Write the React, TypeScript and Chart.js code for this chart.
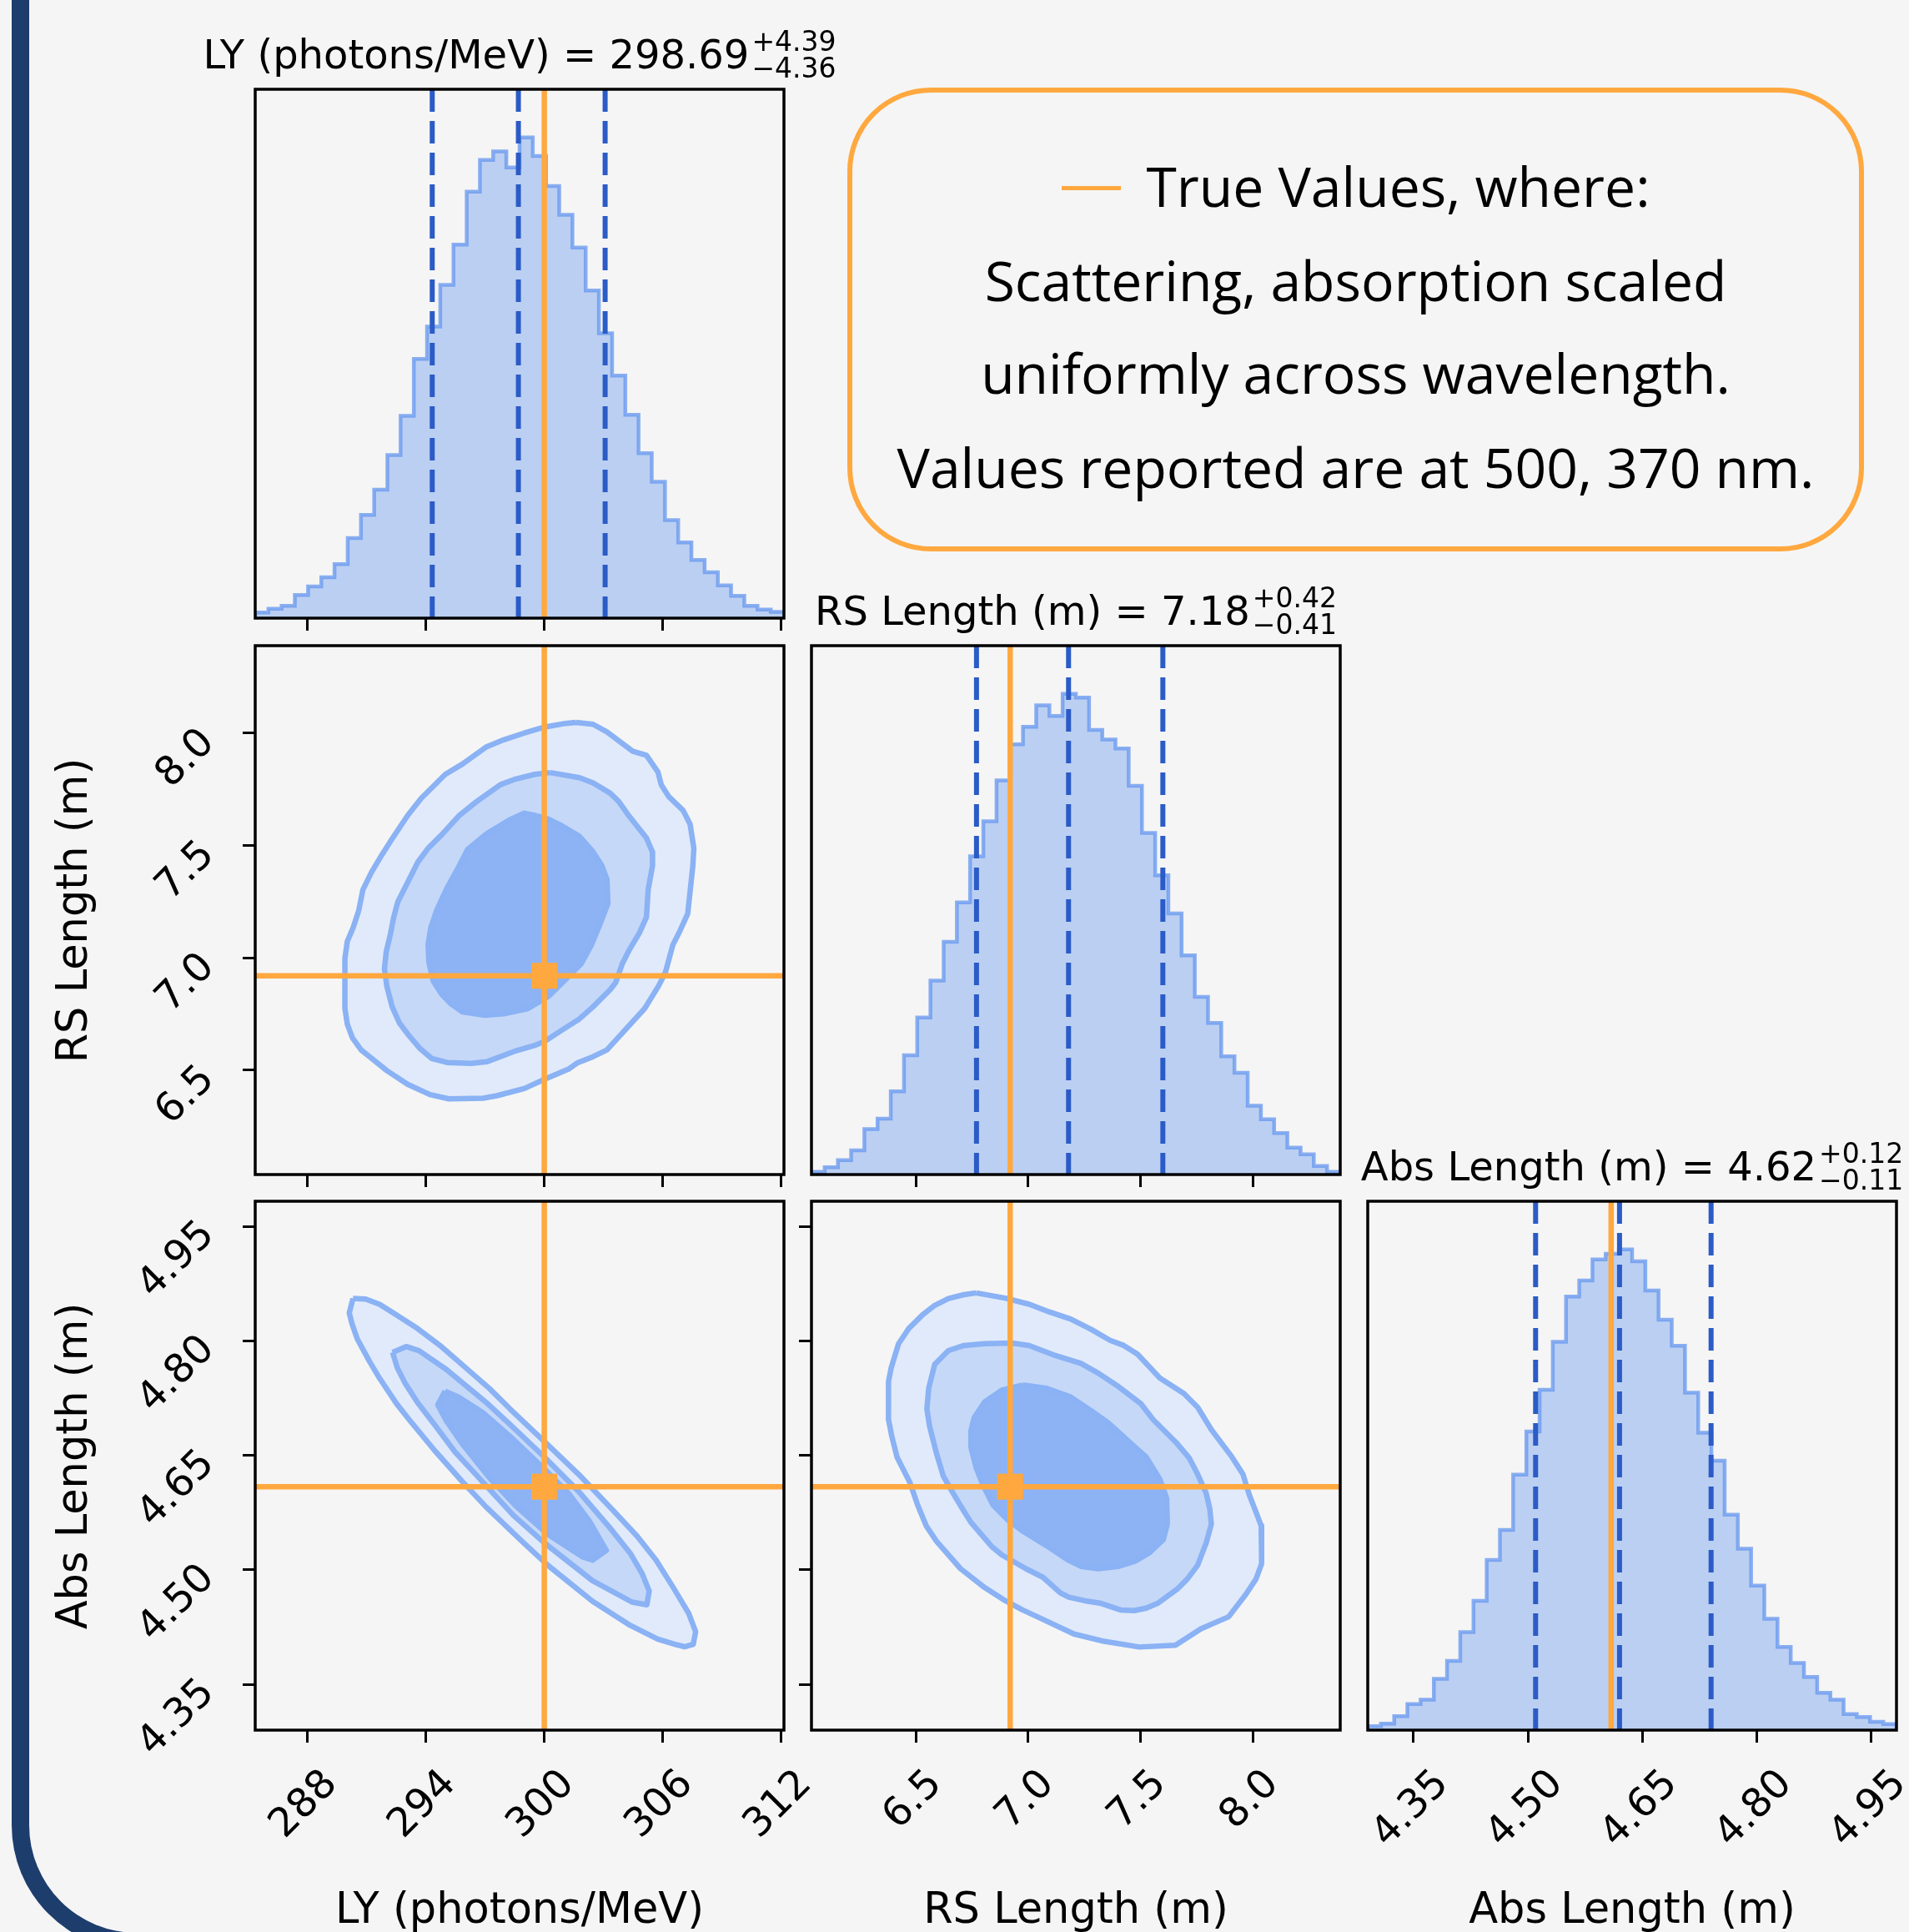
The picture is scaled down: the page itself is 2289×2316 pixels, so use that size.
import React, { useEffect, useRef } from "react";
import { Chart, registerables } from "chart.js";

Chart.register(...registerables);

// ---------------- data ----------------
const N_BINS = 40;
const LY_RANGE: [number, number] = [285.37, 312.13];
const RS_RANGE: [number, number] = [6.035, 8.39];
const ABS_RANGE: [number, number] = [4.29, 4.983];

const LY_TICKS = [288, 294, 300, 306, 312];
const RS_TICKS = [6.5, 7.0, 7.5, 8.0];
const ABS_TICKS = [4.35, 4.5, 4.65, 4.8, 4.95];

const TRUE_LY = 300;
const TRUE_RS = 6.92;
const TRUE_ABS = 4.609;

const LY_QUANTILES = [294.33, 298.69, 303.08];
const RS_QUANTILES = [6.77, 7.18, 7.6];
const ABS_QUANTILES = [4.51, 4.62, 4.74];

const LY_COUNTS = [15, 25, 33, 62, 85, 110, 145, 215, 277, 345, 438, 543, 696, 783, 895, 1003, 1145, 1230, 1253, 1210, 1291, 1241, 1160, 1083, 995, 880, 765, 651, 546, 443, 366, 263, 203, 156, 123, 88, 60, 33, 23, 17];
const RS_COUNTS = [7, 19, 37, 62, 117, 144, 214, 307, 404, 499, 599, 700, 819, 909, 1014, 1107, 1152, 1207, 1180, 1237, 1227, 1144, 1119, 1096, 1000, 879, 770, 672, 564, 457, 390, 304, 262, 177, 142, 107, 69, 52, 22, 7];
const ABS_COUNTS = [10, 16, 35, 65, 76, 128, 173, 245, 323, 425, 500, 638, 746, 850, 970, 1083, 1123, 1176, 1190, 1201, 1171, 1098, 1025, 960, 843, 743, 673, 538, 453, 361, 278, 208, 168, 133, 93, 76, 40, 33, 21, 15];

const LY_TITLE = ["LY (photons/MeV) = 298.69", "+4.39", "\u22124.36"];
const RS_TITLE = ["RS Length (m) = 7.18", "+0.42", "\u22120.41"];
const ABS_TITLE = ["Abs Length (m) = 4.62", "+0.12", "\u22120.11"];
const AXIS_LABELS = ["LY (photons/MeV)", "RS Length (m)", "Abs Length (m)"];
const LEGEND_LINES = ["True Values, where:", "Scattering, absorption scaled", "uniformly across wavelength.", "Values reported are at 500, 370 nm."];

// contour levels (x, y) in data units
const LY_RS_OUTER = [[301.6, 8.048], [302.47, 8.04], [303.17, 8.006], [304.48, 7.92], [305.17, 7.902], [305.75, 7.828], [305.92, 7.771], [306.3, 7.718], [307.03, 7.656], [307.38, 7.595], [307.57, 7.488], [307.52, 7.411], [307.26, 7.196], [306.86, 7.119], [306.51, 7.058], [306.13, 6.935], [305.78, 6.874], [305.08, 6.774], [303.17, 6.59], [302.47, 6.56], [301.69, 6.533], [301.26, 6.506], [300.04, 6.46], [298.99, 6.418], [297.6, 6.386], [296.91, 6.375], [295.17, 6.372], [294.21, 6.391], [293.08, 6.437], [292.03, 6.498], [291.16, 6.56], [290.73, 6.59], [290.29, 6.644], [290.03, 6.705], [289.91, 6.774], [289.91, 6.997], [290.03, 7.073], [290.33, 7.135], [290.61, 7.211], [290.82, 7.303], [291.25, 7.38], [291.77, 7.457], [292.21, 7.518], [293.08, 7.633], [293.77, 7.71], [294.99, 7.817], [295.86, 7.863], [297.08, 7.94], [297.95, 7.971], [298.99, 8.001], [300.04, 8.028], [301.08, 8.044]];
const LY_RS_MID = [[300.3, 7.825], [301.78, 7.802], [302.47, 7.779], [303.34, 7.733], [303.78, 7.695], [304.21, 7.641], [305.17, 7.534], [305.47, 7.472], [305.48, 7.411], [305.26, 7.304], [305.17, 7.181], [304.82, 7.112], [304.3, 7.035], [303.95, 6.974], [303.61, 6.889], [303.34, 6.859], [302.47, 6.782], [301.78, 6.728], [300.91, 6.679], [300.04, 6.629], [299.52, 6.61], [298.47, 6.583], [297.08, 6.537], [296.3, 6.53], [295.08, 6.534], [294.3, 6.552], [293.69, 6.598], [293.17, 6.652], [292.68, 6.708], [292.3, 6.782], [292.03, 6.874], [291.91, 6.951], [292.0, 7.027], [292.21, 7.104], [292.38, 7.181], [292.59, 7.25], [292.99, 7.319], [293.6, 7.426], [294.12, 7.488], [294.82, 7.549], [295.69, 7.633], [296.56, 7.695], [297.78, 7.771], [298.47, 7.794], [299.52, 7.817]];
const LY_RS_INNER = [[299.6, 7.633], [300.21, 7.618], [300.91, 7.587], [301.78, 7.541], [302.47, 7.472], [302.91, 7.411], [303.17, 7.35], [303.22, 7.242], [302.82, 7.15], [302.39, 7.058], [301.87, 6.974], [301.43, 6.935], [300.91, 6.889], [300.21, 6.828], [299.17, 6.774], [297.95, 6.751], [296.99, 6.744], [295.86, 6.759], [295.25, 6.797], [294.82, 6.836], [294.38, 6.897], [294.16, 6.981], [294.12, 7.058], [294.26, 7.135], [294.56, 7.212], [295.08, 7.311], [295.6, 7.394], [296.12, 7.483], [297.08, 7.552], [298.3, 7.617], [298.99, 7.644]];

const LY_ABS_OUTER = [[290.32, 4.8557], [290.96, 4.8548], [291.66, 4.848], [292.35, 4.8367], [293.57, 4.8165], [294.79, 4.7926], [295.83, 4.7692], [297.22, 4.7378], [298.27, 4.7108], [300.01, 4.668], [301.74, 4.6252], [303.48, 4.578], [304.7, 4.5442], [305.66, 4.5127], [306.53, 4.4768], [307.31, 4.443], [307.66, 4.4191], [307.54, 4.4025], [307.1, 4.3993], [306.61, 4.4025], [305.74, 4.4093], [304.35, 4.4273], [302.44, 4.4588], [300.18, 4.506], [298.96, 4.5353], [297.05, 4.5825], [295.83, 4.6163], [294.44, 4.6567], [293.22, 4.695], [292.53, 4.7175], [291.66, 4.7512], [291.14, 4.7738], [290.53, 4.803], [290.27, 4.8224], [290.13, 4.8367]];
const LY_ABS_MID = [[292.32, 4.785], [293.01, 4.7926], [293.66, 4.7872], [295.05, 4.7625], [297.05, 4.7197], [298.27, 4.6905], [300.01, 4.6477], [301.74, 4.6028], [303.31, 4.5555], [304.35, 4.5218], [304.96, 4.4947], [305.31, 4.4722], [305.19, 4.4542], [304.44, 4.4578], [302.44, 4.4858], [300.01, 4.5352], [298.44, 4.5713], [296.53, 4.6252], [295.48, 4.6545], [294.44, 4.6905], [293.57, 4.7198], [292.96, 4.7445], [292.56, 4.7648]];
const LY_ABS_INNER = [[294.98, 4.7342], [295.66, 4.7265], [296.88, 4.7063], [298.27, 4.6748], [300.01, 4.632], [301.22, 4.6005], [302.27, 4.5645], [303.14, 4.5254], [302.44, 4.5127], [301.92, 4.5173], [300.18, 4.5465], [298.61, 4.5825], [297.22, 4.6208], [295.83, 4.6658], [295.05, 4.695], [294.61, 4.7162]];

const RS_ABS_OUTER = [[6.768, 4.8629], [6.898, 4.8561], [7.005, 4.848], [7.097, 4.8377], [7.189, 4.8287], [7.281, 4.8151], [7.365, 4.8007], [7.426, 4.794], [7.487, 4.7827], [7.587, 4.7512], [7.694, 4.731], [7.755, 4.713], [7.816, 4.6837], [7.908, 4.6478], [7.957, 4.6252], [7.985, 4.5983], [8.015, 4.5757], [8.038, 4.5577], [8.04, 4.5082], [8.015, 4.488], [7.969, 4.4677], [7.893, 4.4385], [7.77, 4.4228], [7.656, 4.4012], [7.495, 4.3989], [7.327, 4.407], [7.204, 4.416], [7.051, 4.4372], [6.975, 4.4475], [6.89, 4.461], [6.806, 4.4768], [6.699, 4.5015], [6.592, 4.5375], [6.546, 4.5577], [6.508, 4.5848], [6.474, 4.614], [6.416, 4.6478], [6.393, 4.6747], [6.378, 4.6972], [6.378, 4.7467], [6.39, 4.7647], [6.423, 4.7963], [6.469, 4.8165], [6.531, 4.8345], [6.584, 4.8466], [6.645, 4.8556], [6.714, 4.8606]];
const RS_ABS_MID = [[6.929, 4.7972], [7.005, 4.794], [7.112, 4.7818], [7.235, 4.7706], [7.311, 4.758], [7.403, 4.74], [7.503, 4.7175], [7.556, 4.6972], [7.663, 4.6657], [7.717, 4.6468], [7.755, 4.6252], [7.793, 4.6005], [7.809, 4.5802], [7.816, 4.56], [7.793, 4.5352], [7.755, 4.506], [7.709, 4.488], [7.663, 4.4745], [7.579, 4.4565], [7.526, 4.4498], [7.472, 4.4466], [7.411, 4.4475], [7.319, 4.4565], [7.265, 4.4588], [7.181, 4.4642], [7.143, 4.47], [7.066, 4.4903], [6.99, 4.5015], [6.883, 4.5195], [6.837, 4.5308], [6.745, 4.5623], [6.707, 4.5802], [6.661, 4.6028], [6.622, 4.623], [6.592, 4.6523], [6.561, 4.6882], [6.549, 4.7108], [6.557, 4.7378], [6.584, 4.7693], [6.645, 4.7873], [6.714, 4.794], [6.806, 4.7963]];
const RS_ABS_INNER = [[6.975, 4.7422], [7.082, 4.7378], [7.189, 4.7265], [7.281, 4.7085], [7.357, 4.6927], [7.449, 4.668], [7.526, 4.6477], [7.587, 4.6185], [7.617, 4.5937], [7.62, 4.56], [7.602, 4.5397], [7.541, 4.5227], [7.48, 4.5118], [7.403, 4.5046], [7.311, 4.5015], [7.235, 4.5046], [7.173, 4.5137], [7.082, 4.5317], [6.975, 4.551], [6.913, 4.5645], [6.844, 4.5848], [6.798, 4.6117], [6.768, 4.6343], [6.745, 4.6612], [6.745, 4.6815], [6.76, 4.6995], [6.806, 4.7198], [6.883, 4.7355]];

// ---------------- style / layout ----------------
const FONT = "'DejaVu Sans', sans-serif";
const LEGEND_FONT = "'Open Sans', sans-serif";
const BG = "#f5f5f5";
const NAVY = "#1d3d6d";
const ORANGE = "#ffa83f";
const HIST_FILL = "rgba(100,149,237,0.4)";
const HIST_LINE = "rgba(100,149,237,0.75)";
const Q_COLOR = "#2b5bc6";
const C_LINE = "#8ab2f4";
const C_FILLS = ["#e1eafa", "#c5d8f7", "#8db3f4"];

const COL_X = [306, 973, 1640];
const ROW_Y = [107, 774, 1440];
const SIZE = 634;
const ML = 200, MT = 150, MR = 60, MB = 200;
const TICK_FONT = 48;

const fmt0 = (v: number) => String(Math.round(v));
const fmt1 = (v: number) => v.toFixed(1);
const fmt2 = (v: number) => v.toFixed(2);

const framePlugin = {
  id: "frame",
  afterDraw(chart: any) {
    const { ctx, chartArea: a } = chart;
    ctx.save();
    ctx.strokeStyle = "#000";
    ctx.lineWidth = 3.5;
    ctx.strokeRect(a.left, a.top, a.right - a.left, a.bottom - a.top);
    ctx.restore();
  },
};

function scaleOpts(o: {
  axis: "x" | "y";
  range: [number, number];
  ticks?: number[];
  marks: boolean;
  labels: boolean;
  fmt?: (v: number) => string;
  labelOffset?: number;
  padding?: number;
}) {
  const { axis, range, ticks = [], marks, labels, fmt, labelOffset = 0, padding = 0 } = o;
  return {
    type: "linear",
    position: axis === "x" ? "bottom" : "left",
    min: range[0],
    max: range[1],
    afterBuildTicks: (s: any) => {
      s.ticks = ticks.map((v) => ({ value: v }));
    },
    afterFit: (s: any) => {
      if (axis === "x") s.height = MB;
      else s.width = ML;
    },
    grid: {
      display: marks,
      drawOnChartArea: false,
      drawTicks: true,
      tickLength: 15,
      lineWidth: 3,
      tickWidth: 3,
      color: "#000",
      tickColor: "#000",
    },
    border: { display: false },
    ticks: {
      display: labels,
      autoSkip: false,
      minRotation: 45,
      maxRotation: 45,
      padding,
      labelOffset,
      color: "#000",
      font: { family: FONT, size: TICK_FONT },
      callback: (v: any) => (fmt ? fmt(Number(v)) : String(v)),
    },
  };
}

function baseOptions(x: any, y: any) {
  return {
    animation: false,
    responsive: false,
    maintainAspectRatio: false,
    devicePixelRatio: 1,
    events: [],
    layout: { padding: { left: 0, top: MT, right: MR, bottom: 0 }, autoPadding: false },
    plugins: { legend: { display: false }, tooltip: { enabled: false }, title: { display: false } },
    scales: { x, y },
    elements: { line: { tension: 0 } },
  };
}

const pts = (arr: number[][]) => arr.map(([x, y]) => ({ x, y }));
const closedPts = (arr: number[][]) => {
  const p = pts(arr);
  p.push({ ...p[0] });
  return p;
};

function histConfig(counts: number[], range: [number, number], quantiles: number[], truth: number, xAxis: any) {
  const n = counts.length;
  const edge = (i: number) => (i === n ? range[1] : range[0] + ((range[1] - range[0]) * i) / n);
  const ymax = 1.1 * Math.max(...counts);
  const outline: { x: number; y: number }[] = [{ x: edge(0), y: 0 }];
  counts.forEach((c, i) => {
    outline.push({ x: edge(i), y: c }, { x: edge(i + 1), y: c });
  });
  outline.push({ x: edge(n), y: 0 });
  const datasets: any[] = [
    { data: outline, fill: "origin", backgroundColor: HIST_FILL, borderColor: HIST_LINE, borderWidth: 4.5, pointRadius: 0, order: 5, borderJoinStyle: "miter" },
    ...quantiles.map((q) => ({
      data: [{ x: q, y: ymax }, { x: q, y: 0 }],
      borderColor: Q_COLOR,
      borderWidth: 6,
      borderDash: [27, 11],
      pointRadius: 0,
      fill: false,
      order: 3,
    })),
    { data: [{ x: truth, y: ymax }, { x: truth, y: 0 }], borderColor: ORANGE, borderWidth: 6.5, pointRadius: 0, fill: false, order: 1 },
  ];
  return {
    type: "line",
    data: { datasets },
    options: baseOptions(xAxis, scaleOpts({ axis: "y", range: [0, ymax], marks: false, labels: false })),
    plugins: [framePlugin],
  };
}

function contourConfig(levels: number[][][], tx: number, ty: number, xAxis: any, yAxis: any) {
  const datasets: any[] = levels.map((lv, i) => ({
    data: closedPts(lv),
    fill: "shape",
    backgroundColor: C_FILLS[i],
    borderColor: C_LINE,
    borderWidth: 6.5,
    borderJoinStyle: "round",
    pointRadius: 0,
    order: 10 - i,
  }));
  datasets.push(
    { data: [{ x: tx, y: yAxis.min }, { x: tx, y: yAxis.max }], borderColor: ORANGE, borderWidth: 6.5, pointRadius: 0, fill: false, order: 2 },
    { data: [{ x: xAxis.min, y: ty }, { x: xAxis.max, y: ty }], borderColor: ORANGE, borderWidth: 6.5, pointRadius: 0, fill: false, order: 2 },
    { data: [{ x: tx, y: ty }], showLine: false, pointStyle: "rect", pointRadius: 22, pointBackgroundColor: ORANGE, pointBorderWidth: 0, backgroundColor: ORANGE, borderColor: ORANGE, order: 1 }
  );
  return {
    type: "line",
    data: { datasets },
    options: baseOptions(xAxis, yAxis),
    plugins: [framePlugin],
  };
}

function Panel({ col, row, config }: { col: number; row: number; config: any }) {
  const ref = useRef<HTMLCanvasElement>(null);
  useEffect(() => {
    const chart = new Chart(ref.current as HTMLCanvasElement, config);
    return () => chart.destroy();
  }, []);
  const W = ML + SIZE + MR;
  const H = MT + SIZE + MB;
  return (
    <canvas
      ref={ref}
      width={W}
      height={H}
      style={{ position: "absolute", left: COL_X[col] - ML, top: ROW_Y[row] - MT, width: W, height: H }}
    />
  );
}

function Title({ col, row, parts }: { col: number; row: number; parts: string[] }) {
  const cx = COL_X[col] + SIZE / 2;
  const base = ROW_Y[row] - 25;
  return (
    <div
      style={{
        position: "absolute",
        left: cx - 600,
        width: 1200,
        top: base - 40.6,
        display: "flex",
        justifyContent: "center",
        alignItems: "flex-start",
        fontFamily: FONT,
        color: "#000",
        whiteSpace: "nowrap",
      }}
    >
      <span style={{ fontSize: 48, lineHeight: "48px" }}>{parts[0]}</span>
      <span style={{ display: "flex", flexDirection: "column", fontSize: 33, lineHeight: "32px", marginTop: -7.8, marginLeft: 3 }}>
        <span>{parts[1]}</span>
        <span>{parts[2]}</span>
      </span>
    </div>
  );
}

function BottomLabel({ col, text }: { col: number; text: string }) {
  const cx = COL_X[col] + SIZE / 2;
  return (
    <div
      style={{
        position: "absolute",
        left: cx - 400,
        width: 800,
        top: 2305 - 43.15,
        textAlign: "center",
        fontFamily: FONT,
        fontSize: 51,
        lineHeight: "51px",
        color: "#000",
        whiteSpace: "nowrap",
      }}
    >
      {text}
    </div>
  );
}

function LeftLabel({ row, text }: { row: number; text: string }) {
  const cy = ROW_Y[row] + SIZE / 2;
  const cx = 86.4;
  return (
    <div
      style={{
        position: "absolute",
        left: cx - 400,
        width: 800,
        top: cy - 25.5,
        height: 51,
        textAlign: "center",
        fontFamily: FONT,
        fontSize: 51,
        lineHeight: "51px",
        color: "#000",
        whiteSpace: "nowrap",
        transform: "rotate(-90deg)",
        transformOrigin: "50% 50%",
      }}
    >
      {text}
    </div>
  );
}

const LEG_FS = 66;
const LEG_BASES = [248, 361, 472, 585];

function Legend() {
  return (
    <>
      <div
        style={{
          position: "absolute",
          left: 1016,
          top: 105,
          width: 1219,
          height: 556,
          border: `6px solid ${ORANGE}`,
          borderRadius: 100,
          boxSizing: "border-box",
        }}
      />
      {LEGEND_LINES.map((t, i) => (
        <div
          key={i}
          style={{
            position: "absolute",
            left: 1016,
            width: 1219,
            top: LEG_BASES[i] - 0.888 * LEG_FS,
            textAlign: "center",
            fontFamily: LEGEND_FONT,
            fontSize: LEG_FS,
            lineHeight: `${LEG_FS}px`,
            color: "#000",
            whiteSpace: "nowrap",
          }}
        >
          {i === 0 && (
            <span
              style={{
                display: "inline-block",
                width: 71,
                height: 5,
                background: ORANGE,
                marginRight: 31,
                marginBottom: 20,
                verticalAlign: "baseline",
              }}
            />
          )}
          {t}
        </div>
      ))}
    </>
  );
}

export default function App() {
  const xLY = (labels: boolean) =>
    scaleOpts({ axis: "x", range: LY_RANGE, ticks: LY_TICKS, marks: true, labels, fmt: fmt0, labelOffset: 29, padding: 22 });
  const xRS = (labels: boolean) =>
    scaleOpts({ axis: "x", range: RS_RANGE, ticks: RS_TICKS, marks: true, labels, fmt: fmt1, labelOffset: 24, padding: 22 });
  const xABS = (labels: boolean) =>
    scaleOpts({ axis: "x", range: ABS_RANGE, ticks: ABS_TICKS, marks: true, labels, fmt: fmt2, labelOffset: 35, padding: 22 });
  const yRS = (labels: boolean) =>
    scaleOpts({ axis: "y", range: RS_RANGE, ticks: RS_TICKS, marks: true, labels, fmt: fmt1, labelOffset: 4, padding: 41 });
  const yABS = (labels: boolean) =>
    scaleOpts({ axis: "y", range: ABS_RANGE, ticks: ABS_TICKS, marks: true, labels, fmt: fmt2, labelOffset: 3, padding: 41 });

  const cfgHistLY = histConfig(LY_COUNTS, LY_RANGE, LY_QUANTILES, TRUE_LY, xLY(false));
  const cfgHistRS = histConfig(RS_COUNTS, RS_RANGE, RS_QUANTILES, TRUE_RS, xRS(false));
  const cfgHistABS = histConfig(ABS_COUNTS, ABS_RANGE, ABS_QUANTILES, TRUE_ABS, xABS(true));
  const cfgLYRS = contourConfig([LY_RS_OUTER, LY_RS_MID, LY_RS_INNER], TRUE_LY, TRUE_RS, xLY(false), yRS(true));
  const cfgLYABS = contourConfig([LY_ABS_OUTER, LY_ABS_MID, LY_ABS_INNER], TRUE_LY, TRUE_ABS, xLY(true), yABS(true));
  const cfgRSABS = contourConfig([RS_ABS_OUTER, RS_ABS_MID, RS_ABS_INNER], TRUE_RS, TRUE_ABS, xRS(true), yABS(false));

  return (
    <div
      style={{
        position: "absolute",
        left: 0,
        top: 0,
        width: 2289,
        height: 2316,
        overflow: "hidden",
        background: BG,
      }}
    >
      <div
        style={{
          position: "absolute",
          left: 14,
          top: -200,
          width: 3000,
          height: 2538,
          borderLeft: `21px solid ${NAVY}`,
          borderBottom: `21px solid ${NAVY}`,
          borderBottomLeftRadius: 150,
          boxSizing: "border-box",
        }}
      />
      <Panel col={0} row={0} config={cfgHistLY} />
      <Panel col={0} row={1} config={cfgLYRS} />
      <Panel col={1} row={1} config={cfgHistRS} />
      <Panel col={0} row={2} config={cfgLYABS} />
      <Panel col={1} row={2} config={cfgRSABS} />
      <Panel col={2} row={2} config={cfgHistABS} />

      <Title col={0} row={0} parts={LY_TITLE} />
      <Title col={1} row={1} parts={RS_TITLE} />
      <Title col={2} row={2} parts={ABS_TITLE} />

      <BottomLabel col={0} text={AXIS_LABELS[0]} />
      <BottomLabel col={1} text={AXIS_LABELS[1]} />
      <BottomLabel col={2} text={AXIS_LABELS[2]} />
      <LeftLabel row={1} text={AXIS_LABELS[1]} />
      <LeftLabel row={2} text={AXIS_LABELS[2]} />

      <Legend />
    </div>
  );
}
